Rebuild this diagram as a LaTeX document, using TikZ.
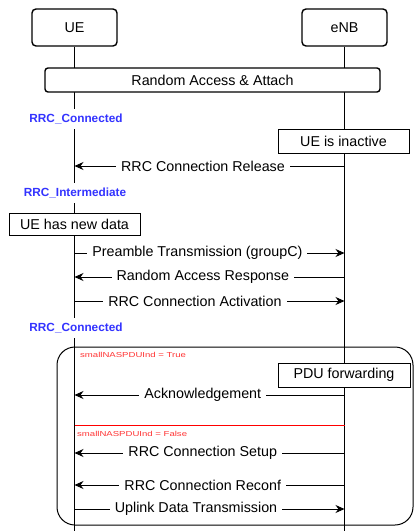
\documentclass[tikz,border=0pt]{standalone}
\usepackage{fontspec}
\setmainfont{Liberation Sans}
\usetikzlibrary{arrows.meta}
\newcommand\myfs[1]{\fontsize{#1}{#1}\selectfont}
\definecolor{stateblue}{HTML}{3333FF}
\definecolor{condred}{HTML}{FF3333}
\begin{document}
\begin{tikzpicture}[x=1pt,y=-1pt,
  hdr/.style={draw,rounded corners=4pt,line width=1.4pt,fill=white,minimum width=85pt,minimum height=37pt,font=\myfs{14.3}},
  bar/.style={draw,rounded corners=3pt,line width=1.4pt,fill=white,minimum width=335pt,minimum height=24pt,font=\myfs{14.3}},
  note/.style={draw,line width=0.9pt,fill=white,minimum height=24pt,font=\myfs{14.3},inner sep=0pt},
  life/.style={line width=0.9pt},
  msg/.style={line width=0.9pt,-{Stealth[length=9pt,width=8pt]}},
  lbl/.style={fill=white,font=\myfs{14.3},inner xsep=5pt,inner ysep=1pt},
  state/.style={fill=white,text=stateblue,font=\bfseries\myfs{11.8},inner xsep=2pt,inner ysep=5pt},
  cond/.style={text=condred,font=\myfs{7.2},inner sep=0pt,anchor=west},
  grp/.style={draw,rounded corners=18pt,line width=1pt}]
\useasboundingbox[fill=white] (0,0) rectangle (414,531);
% lifelines
\node[hdr] (ue) at (74.5,27.5) {UE};
\node[hdr] (enb) at (344.5,27.5) {eNB};
\coordinate (ueb) at (74.5,531);
\coordinate (enbb) at (344.5,531);
\draw[life] (ue) -- (ueb);
\draw[life] (enb) -- (enbb);
% group box
\node[grp,minimum width=356pt,minimum height=178pt] (group) at (235,436) {};
% random access
\node[bar] (ra) at (212.5,80) {Random Access \& Attach};
\node[state] (s1) at (76,119) {RRC\_Connected};
\node[note,minimum width=131pt] (inact) at (343.5,141) {UE is inactive};
\coordinate (e1) at (344.5,166); \coordinate (u1) at (74.5,166);
\draw[msg] (e1) -- node[lbl,pos=0.524]{RRC Connection Release} (u1);
\node[state] (s2) at (75,193) {RRC\_Intermediate};
\node[note,minimum width=131pt,minimum height=22pt] (newdata) at (74.5,224) {UE has new data};
\coordinate (u2) at (74.5,253); \coordinate (e2) at (344.5,253);
\draw[msg] (u2) -- node[lbl,pos=0.455]{Preamble Transmission (groupC)} (e2);
\coordinate (e3) at (344.5,277); \coordinate (u3) at (74.5,277);
\draw[msg] (e3) -- node[lbl,pos=0.525]{Random Access Response} (u3);
\coordinate (u4) at (74.5,301); \coordinate (e4) at (344.5,301);
\draw[msg] (u4) -- node[lbl,pos=0.446]{RRC Connection Activation} (e4);
\node[state] (s3) at (76,328) {RRC\_Connected};
% alternative
\node[cond] (ctrue) at (80,355) {\scalebox{1.33}[1]{smallNASPDUInd = True}};
\node[note,minimum width=132pt] (pdu) at (344,375) {PDU forwarding};
\coordinate (e5) at (344.5,395); \coordinate (u5) at (74.5,395);
\draw[msg] (e5) -- node[lbl,pos=0.525]{Acknowledgement} (u5);
\coordinate (r1) at (74.5,425); \coordinate (r2) at (344.5,425);
\draw[red,line width=1pt] (r1) -- (r2);
\node[cond] (cfalse) at (77,434) {\scalebox{1.33}[1]{smallNASPDUInd = False}};
\coordinate (e6) at (344.5,453); \coordinate (u6) at (74.5,453);
\draw[msg] (e6) -- node[lbl,pos=0.525]{RRC Connection Setup} (u6);
\coordinate (e7) at (344.5,485); \coordinate (u7) at (74.5,485);
\draw[msg] (e7) -- node[lbl,pos=0.525]{RRC Connection Reconf} (u7);
\coordinate (u8) at (74.5,509); \coordinate (e8) at (344.5,509);
\draw[msg] (u8) -- node[lbl,pos=0.45]{Uplink Data Transmission} (e8);
\end{tikzpicture}
\end{document}
